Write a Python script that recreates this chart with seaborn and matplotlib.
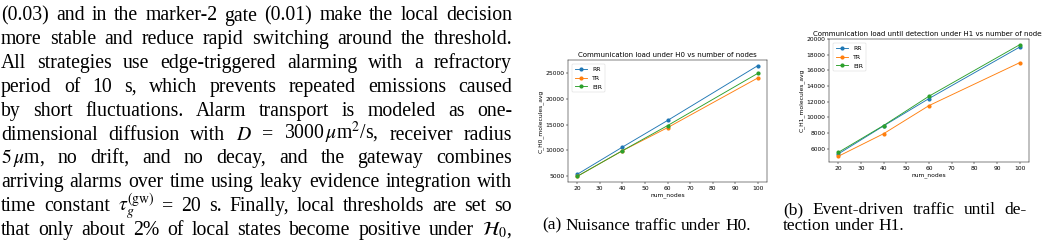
import pandas as pd
import matplotlib
matplotlib.use('Agg')
import matplotlib.pyplot as plt
import seaborn as sns

plt.rcParams['font.family'] = 'Liberation Serif'
plt.rcParams['mathtext.fontset'] = 'stix'

# data read from the two subfigures
num_nodes = [20, 40, 60, 100]
strategies = ['RR', 'TR', 'EIR']
h0_rr = [5300, 10600, 15800, 26500]
h0_tr = [4900, 9900, 14400, 24100]
h0_eir = [4900, 9900, 14800, 25000]
h1_rr = [5300, 8900, 12400, 19000]
h1_tr = [5000, 7900, 11500, 17000]
h1_eir = [5500, 8950, 12700, 19300]
colors = ['#1f77b4', '#ff7f0e', '#2ca02c']

body_lines = [
    "(0.03) and in the marker-2 gate (0.01) make the local decision",
    "more stable and reduce rapid switching around the threshold.",
    "All strategies use edge-triggered alarming with a refractory",
    "period of 10 s, which prevents repeated emissions caused",
    "by short fluctuations. Alarm transport is modeled as one-",
    r"dimensional diffusion with $D$ = 3000$\,\mu$m$^2$/s, receiver radius",
    r"$5\,\mu$m, no drift, and no decay, and the gateway combines",
    "arriving alarms over time using leaky evidence integration with",
    r"time constant $\tau_g^{(\mathrm{gw})}$ = 20 s. Finally, local thresholds are set so",
    r"that only about 2% of local states become positive under $\mathcal{H}_0$,",
]

W, H = 1042, 244
fig = plt.figure(figsize=(W / 100, H / 100), dpi=100)


def split_words(line):
    # keep $...$ pieces together
    out, cur, inmath = [], '', False
    for ch in line:
        if ch == '$':
            inmath = not inmath
        if ch == ' ' and not inmath:
            if cur:
                out.append(cur)
            cur = ''
        else:
            cur += ch
    if cur:
        out.append(cur)
    return out


def put_line(line, x0, x1, base, size, justify=True):
    words = split_words(line)
    arts = [fig.text(0, 1 - base / H, w, fontsize=size, va='baseline', ha='left')
            for w in words]
    r = fig.canvas.get_renderer()
    widths = [a.get_window_extent(r).width for a in arts]
    if justify and len(words) > 1:
        gap = (x1 - x0 - sum(widths)) / (len(words) - 1)
    else:
        gap = size * 100 / 72 * 0.25
    x = x0
    for a, w in zip(arts, widths):
        a.set_x(x / W)
        x += w + gap


fig.canvas.draw()
for i, line in enumerate(body_lines):
    put_line(line, 1, 512, 20.5 + 23.8 * i, 14.2)

put_line("(a) Nuisance traffic under H0.", 542, 765, 229.5, 12.5, justify=False)
put_line("(b) Event-driven traffic until de-", 783, 1027, 214.0, 12.5)
put_line("tection under H1.", 783, 1027, 229.5, 12.5, justify=False)


def make_chart(box, vals, ylabel, title, yticks):
    l, r_, t, b = box
    ax = fig.add_axes([l / W, 1 - b / H, (r_ - l) / W, (b - t) / H])
    df = pd.DataFrame({
        'num_nodes': num_nodes * 3,
        'value': vals[0] + vals[1] + vals[2],
        'strategy': [s for s in strategies for _ in num_nodes],
    })
    sns.lineplot(data=df, x='num_nodes', y='value', hue='strategy',
                 hue_order=strategies, palette=colors, marker='o',
                 markersize=3.0, markeredgewidth=0, linewidth=0.65, ax=ax)
    for sp in ax.spines.values():
        sp.set_linewidth(0.35)
    ax.tick_params(labelsize=4.3, width=0.35, length=1.5, pad=1.2)
    ax.set_xticks([20, 30, 40, 50, 60, 70, 80, 90, 100])
    ax.set_yticks(yticks)
    ax.set_xlabel('num_nodes', fontsize=4.3, family='DejaVu Sans', labelpad=1)
    ax.set_ylabel(ylabel, fontsize=4.3, family='DejaVu Sans', labelpad=1.5)
    ttl = ax.set_title(title, fontsize=5.0, family='DejaVu Sans', pad=2.5)
    ttl.set_clip_on(False)
    for lab in ax.get_xticklabels() + ax.get_yticklabels():
        lab.set_family('DejaVu Sans')
    sns.move_legend(ax, 'upper left', title=None, fontsize=4.5, frameon=True,
                    handlelength=2.0, borderpad=0.45, labelspacing=0.55,
                    handletextpad=0.8, borderaxespad=0.6)
    leg = ax.get_legend()
    leg.get_frame().set_linewidth(0.35)
    for t_ in leg.get_texts():
        t_.set_family('DejaVu Sans')
    return ax


make_chart((568, 767, 60, 182), [h0_rr, h0_tr, h0_eir], 'C_H0_molecules_avg',
           'Communication load under H0 vs number of nodes',
           [5000, 10000, 15000, 20000, 25000])
make_chart((829, 1029, 39, 162), [h1_rr, h1_tr, h1_eir], 'C_H1_molecules_avg',
           'Communication load until detection under H1 vs number of nodes',
           [6000, 8000, 10000, 12000, 14000, 16000, 18000, 20000])

fig.savefig('out.png', dpi=100)
